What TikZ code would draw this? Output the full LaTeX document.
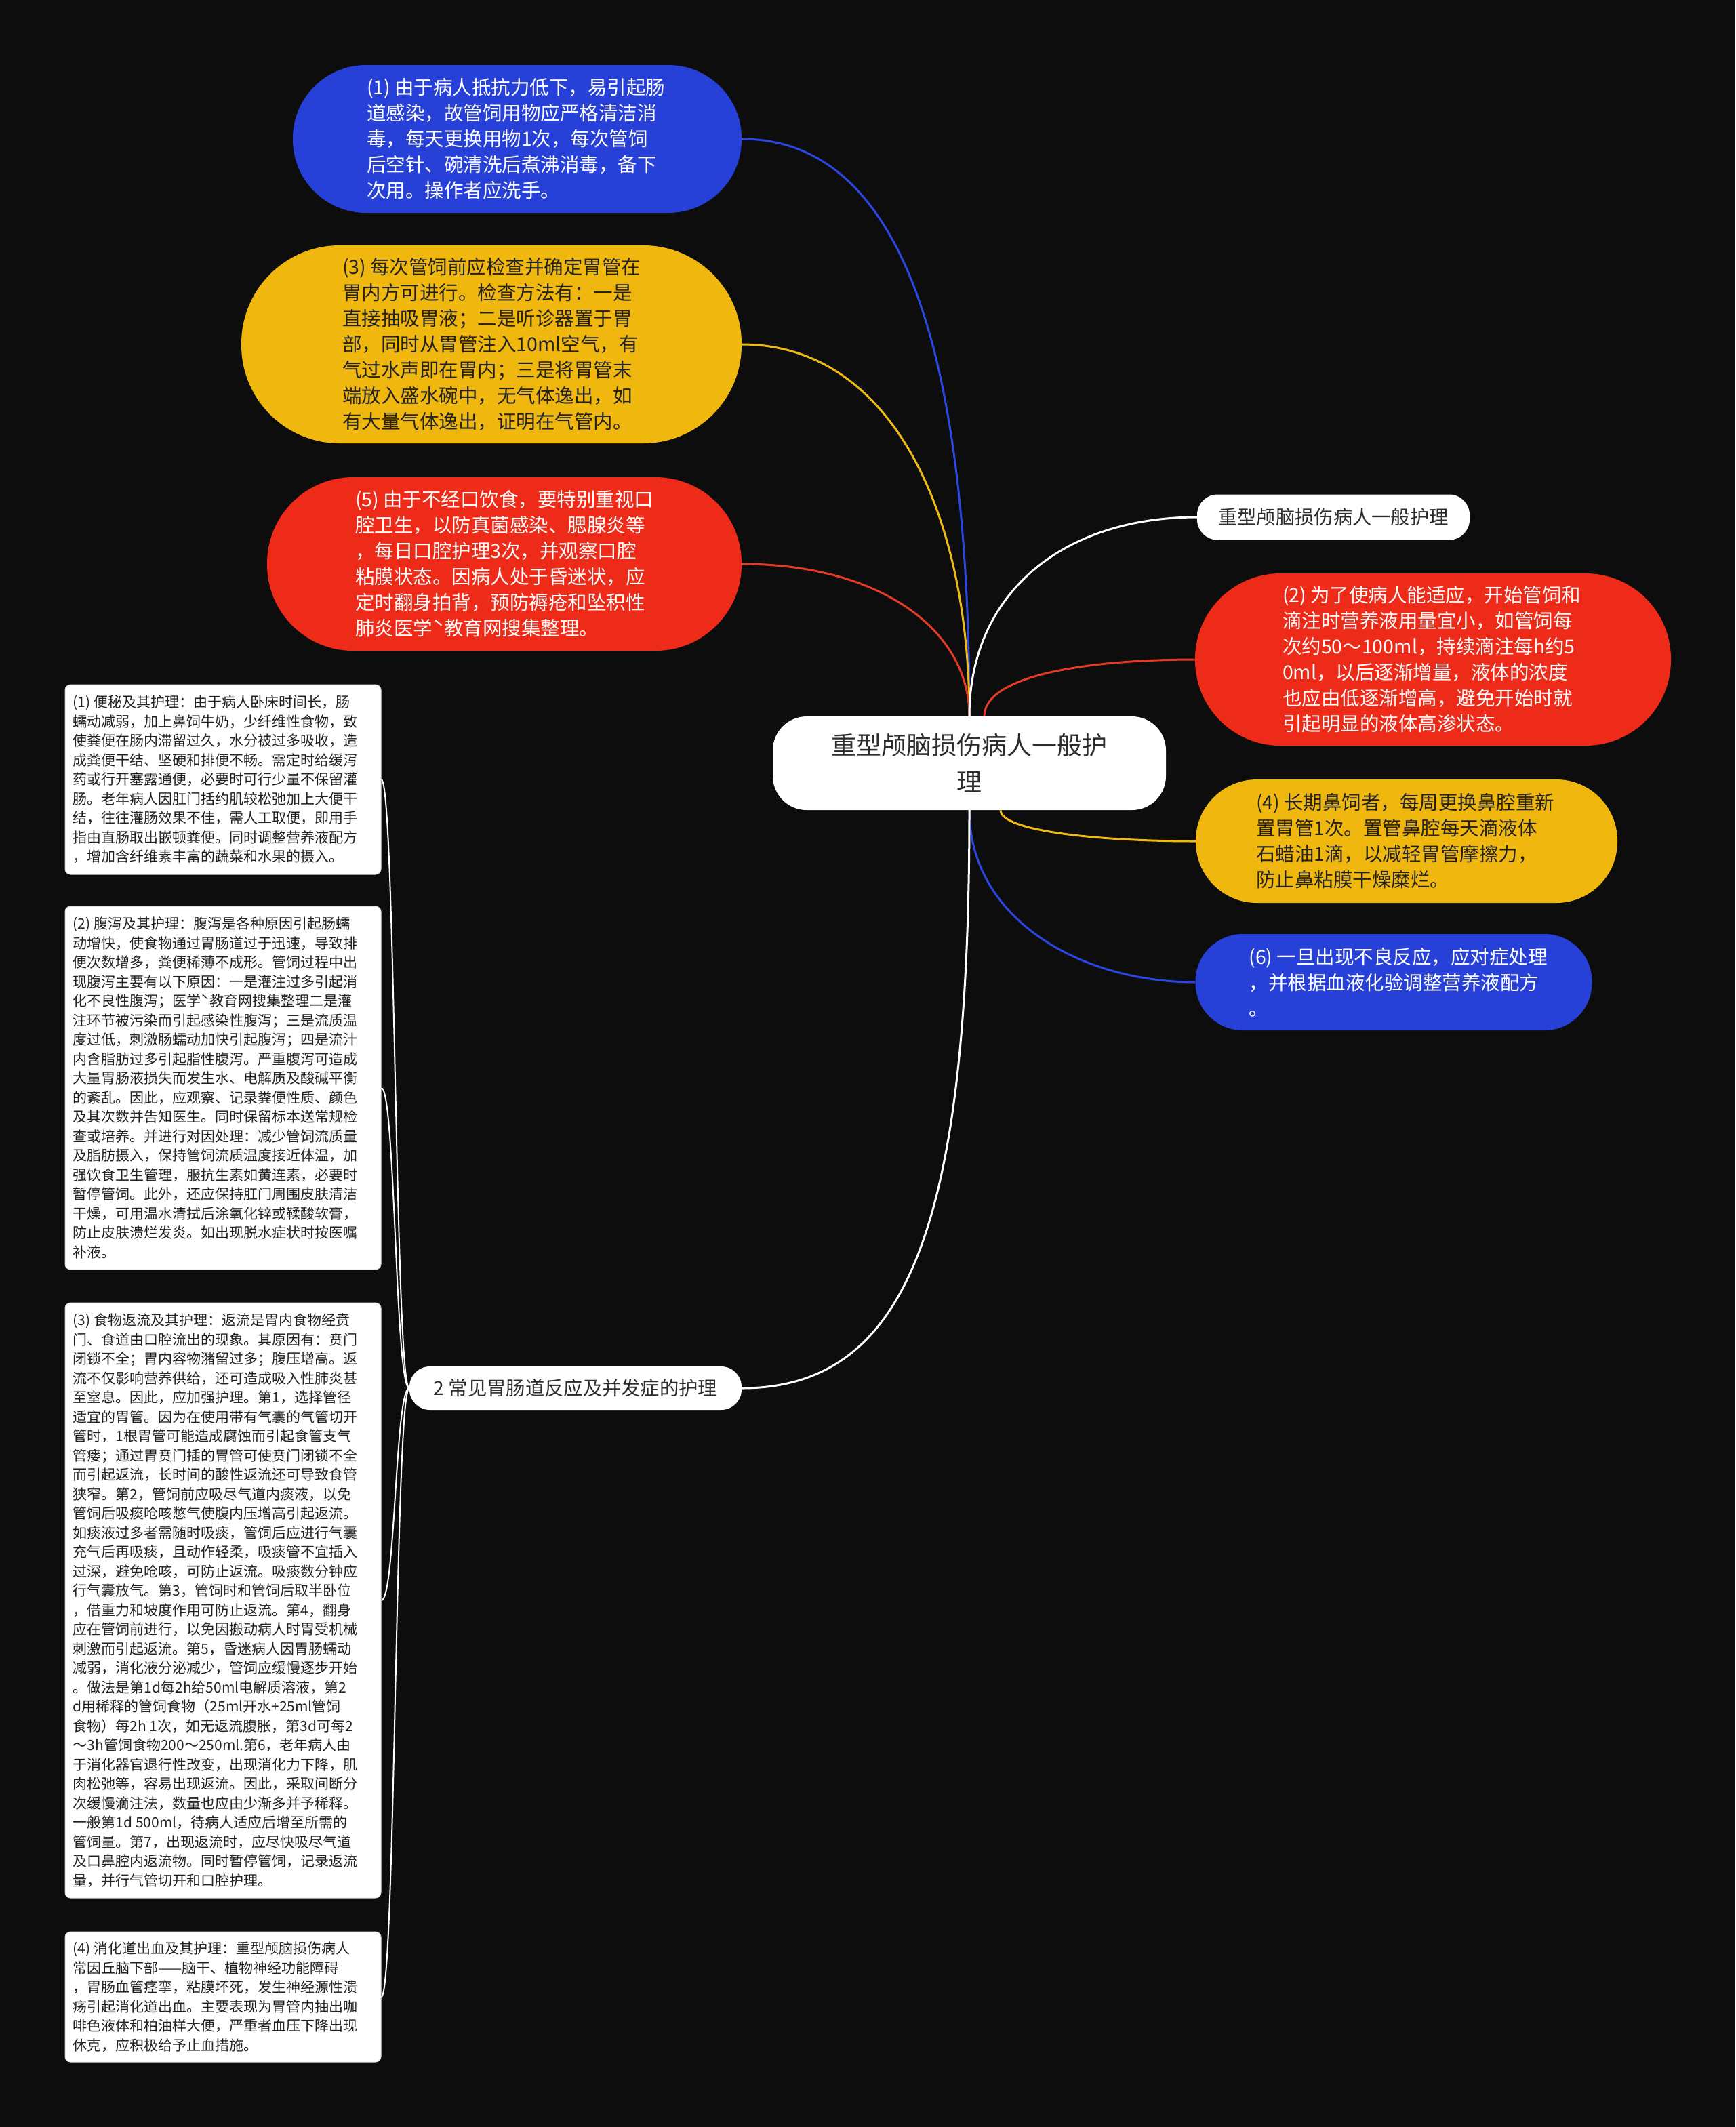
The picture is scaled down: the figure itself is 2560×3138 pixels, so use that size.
\documentclass[tikz,border=0pt]{standalone}
\usepackage{fontspec}
\setmainfont{Noto Sans CJK SC}
\definecolor{bg}{RGB}{13,13,13}
\definecolor{cblue}{RGB}{38,64,216}
\definecolor{cyellow}{RGB}{240,183,14}
\definecolor{cred}{RGB}{238,42,24}
\definecolor{lblue}{RGB}{44,70,225}
\definecolor{lyellow}{RGB}{240,186,20}
\definecolor{lred}{RGB}{228,58,38}
\definecolor{dtext}{RGB}{34,34,34}
\definecolor{wtext}{RGB}{45,45,45}
\tikzset{
  pill/.style={rectangle, inner sep=0pt, draw=none},
  btext/.style={anchor=west, align=left, inner sep=0pt, font=\fontsize{28.5}{38}\selectfont},
  stext/.style={anchor=west, align=left, inner sep=0pt, font=\fontsize{21}{28.5}\selectfont, text=dtext},
  leafbox/.style={rectangle, fill=white, draw=black!15, line width=1pt, rounded corners=8pt, inner sep=0pt, minimum width=466pt},
  wnode/.style={rectangle, fill=white, inner sep=0pt, text=wtext},
  conn/.style={line width=3pt},
  lconn/.style={line width=2pt, white}
}
\begin{document}
\begin{tikzpicture}[x=1pt,y=-1pt]
\fill[bg] (0,0) rectangle (2560,3138);
\useasboundingbox (0,0) rectangle (2560,3138);

% central node
\node[wnode, minimum width=580pt, minimum height=138pt, rounded corners=50pt, align=center,
      font=\fontsize{37}{54}\selectfont] (c) at (1430,1126) {重型颅脑损伤病人一般护\\理};

% left-top colored nodes
\node[pill, fill=cblue, minimum width=662pt, minimum height=218pt, rounded corners=108pt] (n1) at (763,205) {};
\node[btext, text=white] (t1) at ([xshift=109pt]n1.west) {(1) 由于病人抵抗力低下，易引起肠\\道感染，故管饲用物应严格清洁消\\毒，每天更换用物1次，每次管饲\\后空针、碗清洗后煮沸消毒，备下\\次用。操作者应洗手。};

\node[pill, fill=cyellow, minimum width=738pt, minimum height=292pt, rounded corners=145pt] (n3) at (725,508) {};
\node[btext, text=dtext] (t3) at ([xshift=149pt]n3.west) {(3) 每次管饲前应检查并确定胃管在\\胃内方可进行。检查方法有：一是\\直接抽吸胃液；二是听诊器置于胃\\部，同时从胃管注入10ml空气，有\\气过水声即在胃内；三是将胃管末\\端放入盛水碗中，无气体逸出，如\\有大量气体逸出，证明在气管内。};

\node[pill, fill=cred, minimum width=700pt, minimum height=256pt, rounded corners=127pt] (n5) at (744,832) {};
\node[btext, text=white] (t5) at ([xshift=130pt]n5.west) {(5) 由于不经口饮食，要特别重视口\\腔卫生，以防真菌感染、腮腺炎等\\，每日口腔护理3次，并观察口腔\\粘膜状态。因病人处于昏迷状，应\\定时翻身拍背，预防褥疮和坠积性\\肺炎医学ˋ教育网搜集整理。};

% right nodes
\node[wnode, minimum width=402pt, minimum height=67pt, rounded corners=30pt,
      font=\fontsize{28.3}{38}\selectfont] (w1) at (1967,763) {重型颅脑损伤病人一般护理};

\node[pill, fill=cred, minimum width=702pt, minimum height=254pt, rounded corners=126pt] (n2) at (2114,973) {};
\node[btext, text=white] (t2) at ([xshift=129pt]n2.west) {(2) 为了使病人能适应，开始管饲和\\滴注时营养液用量宜小，如管饲每\\次约50～100ml，持续滴注每h约5\\0ml，以后逐渐增量，液体的浓度\\也应由低逐渐增高，避免开始时就\\引起明显的液体高渗状态。};

\node[pill, fill=cyellow, minimum width=622pt, minimum height=182pt, rounded corners=90pt] (n4) at (2075,1241) {};
\node[btext, text=dtext] (t4) at ([xshift=89pt]n4.west) {(4) 长期鼻饲者，每周更换鼻腔重新\\置胃管1次。置管鼻腔每天滴液体\\石蜡油1滴，以减轻胃管摩擦力，\\防止鼻粘膜干燥糜烂。};

\node[pill, fill=cblue, minimum width=585pt, minimum height=142pt, rounded corners=70pt] (n6) at (2056,1449) {};
\node[btext, text=white] (t6) at ([xshift=79pt]n6.west) {(6) 一旦出现不良反应，应对症处理\\，并根据血液化验调整营养液配方\\。};

% second main branch
\node[wnode, minimum width=490pt, minimum height=64pt, rounded corners=30pt,
      font=\fontsize{28.3}{38}\selectfont] (p2) at (849,2048) {2 常见胃肠道反应及并发症的护理};

% left leaf boxes
\node[leafbox, minimum height=280pt] (L1) at (329,1150) {};
\node[stext] (s1) at ([xshift=12pt]L1.west) {(1) 便秘及其护理：由于病人卧床时间长，肠\\蠕动减弱，加上鼻饲牛奶，少纤维性食物，致\\使粪便在肠内滞留过久，水分被过多吸收，造\\成粪便干结、坚硬和排便不畅。需定时给缓泻\\药或行开塞露通便，必要时可行少量不保留灌\\肠。老年病人因肛门括约肌较松弛加上大便干\\结，往往灌肠效果不佳，需人工取便，即用手\\指由直肠取出嵌顿粪便。同时调整营养液配方\\，增加含纤维素丰富的蔬菜和水果的摄入。};

\node[leafbox, minimum height=536pt] (L2) at (329,1605) {};
\node[stext] (s2) at ([xshift=12pt]L2.west) {(2) 腹泻及其护理：腹泻是各种原因引起肠蠕\\动增快，使食物通过胃肠道过于迅速，导致排\\便次数增多，粪便稀薄不成形。管饲过程中出\\现腹泻主要有以下原因：一是灌注过多引起消\\化不良性腹泻；医学ˋ教育网搜集整理二是灌\\注环节被污染而引起感染性腹泻；三是流质温\\度过低，刺激肠蠕动加快引起腹泻；四是流汁\\内含脂肪过多引起脂性腹泻。严重腹泻可造成\\大量胃肠液损失而发生水、电解质及酸碱平衡\\的紊乱。因此，应观察、记录粪便性质、颜色\\及其次数并告知医生。同时保留标本送常规检\\查或培养。并进行对因处理：减少管饲流质量\\及脂肪摄入，保持管饲流质温度接近体温，加\\强饮食卫生管理，服抗生素如黄连素，必要时\\暂停管饲。此外，还应保持肛门周围皮肤清洁\\干燥，可用温水清拭后涂氧化锌或鞣酸软膏，\\防止皮肤溃烂发炎。如出现脱水症状时按医嘱\\补液。};

\node[leafbox, minimum height=878pt] (L3) at (329,2361) {};
\node[stext] (s3) at ([xshift=12pt]L3.west) {(3) 食物返流及其护理：返流是胃内食物经贲\\门、食道由口腔流出的现象。其原因有：贲门\\闭锁不全；胃内容物潴留过多；腹压增高。返\\流不仅影响营养供给，还可造成吸入性肺炎甚\\至窒息。因此，应加强护理。第1，选择管径\\适宜的胃管。因为在使用带有气囊的气管切开\\管时，1根胃管可能造成腐蚀而引起食管支气\\管瘘；通过胃贲门插的胃管可使贲门闭锁不全\\而引起返流，长时间的酸性返流还可导致食管\\狭窄。第2，管饲前应吸尽气道内痰液，以免\\管饲后吸痰呛咳憋气使腹内压增高引起返流。\\如痰液过多者需随时吸痰，管饲后应进行气囊\\充气后再吸痰，且动作轻柔，吸痰管不宜插入\\过深，避免呛咳，可防止返流。吸痰数分钟应\\行气囊放气。第3，管饲时和管饲后取半卧位\\，借重力和坡度作用可防止返流。第4，翻身\\应在管饲前进行，以免因搬动病人时胃受机械\\刺激而引起返流。第5，昏迷病人因胃肠蠕动\\减弱，消化液分泌减少，管饲应缓慢逐步开始\\。做法是第1d每2h给50ml电解质溶液，第2\\d用稀释的管饲食物（25ml开水+25ml管饲\\食物）每2h 1次，如无返流腹胀，第3d可每2\\～3h管饲食物200～250ml.第6，老年病人由\\于消化器官退行性改变，出现消化力下降，肌\\肉松弛等，容易出现返流。因此，采取间断分\\次缓慢滴注法，数量也应由少渐多并予稀释。\\一般第1d 500ml，待病人适应后增至所需的\\管饲量。第7，出现返流时，应尽快吸尽气道\\及口鼻腔内返流物。同时暂停管饲，记录返流\\量，并行气管切开和口腔护理。};

\node[leafbox, minimum height=192pt] (L4) at (329,2946) {};
\node[stext] (s4) at ([xshift=12pt]L4.west) {(4) 消化道出血及其护理：重型颅脑损伤病人\\常因丘脑下部——脑干、植物神经功能障碍\\，胃肠血管痉挛，粘膜坏死，发生神经源性溃\\疡引起消化道出血。主要表现为胃管内抽出咖\\啡色液体和柏油样大便，严重者血压下降出现\\休克，应积极给予止血措施。};

% connectors from centre
\begin{scope}[on background layer/.style={}]
\draw[conn, lblue] (n1.east) .. controls +(250,0) and +(0,-500) .. (c.north);
\draw[conn, lyellow] (n3.east) .. controls +(220,0) and +(0,-300) .. (c.north);
\draw[conn, lred] (n5.east) .. controls +(200,0) and +(0,-130) .. (c.north);
\draw[conn, white] (w1.west) .. controls +(-200,0) and +(0,-180) .. (c.north);
\draw[conn, lred] (n2.west) .. controls +(-160,0) and +(0,-60) .. ([xshift=22pt]c.north);
\draw[conn, lyellow] ([xshift=46pt]c.south) .. controls +(0,30) and +(-150,0) .. (n4.west);
\draw[conn, lblue] (c.south) .. controls +(0,160) and +(-170,0) .. (n6.west);
\draw[conn, white] (c.south) .. controls +(0,600) and +(250,0) .. (p2.east);
\end{scope}

% connectors to leaf boxes
\draw[lconn] (p2.west) .. controls +(-21,0) and +(21,0) .. (L1.east);
\draw[lconn] (p2.west) .. controls +(-21,0) and +(21,0) .. (L2.east);
\draw[lconn] (p2.west) .. controls +(-21,0) and +(21,0) .. (L3.east);
\draw[lconn] (p2.west) .. controls +(-21,0) and +(21,0) .. (L4.east);
\end{tikzpicture}
\end{document}
